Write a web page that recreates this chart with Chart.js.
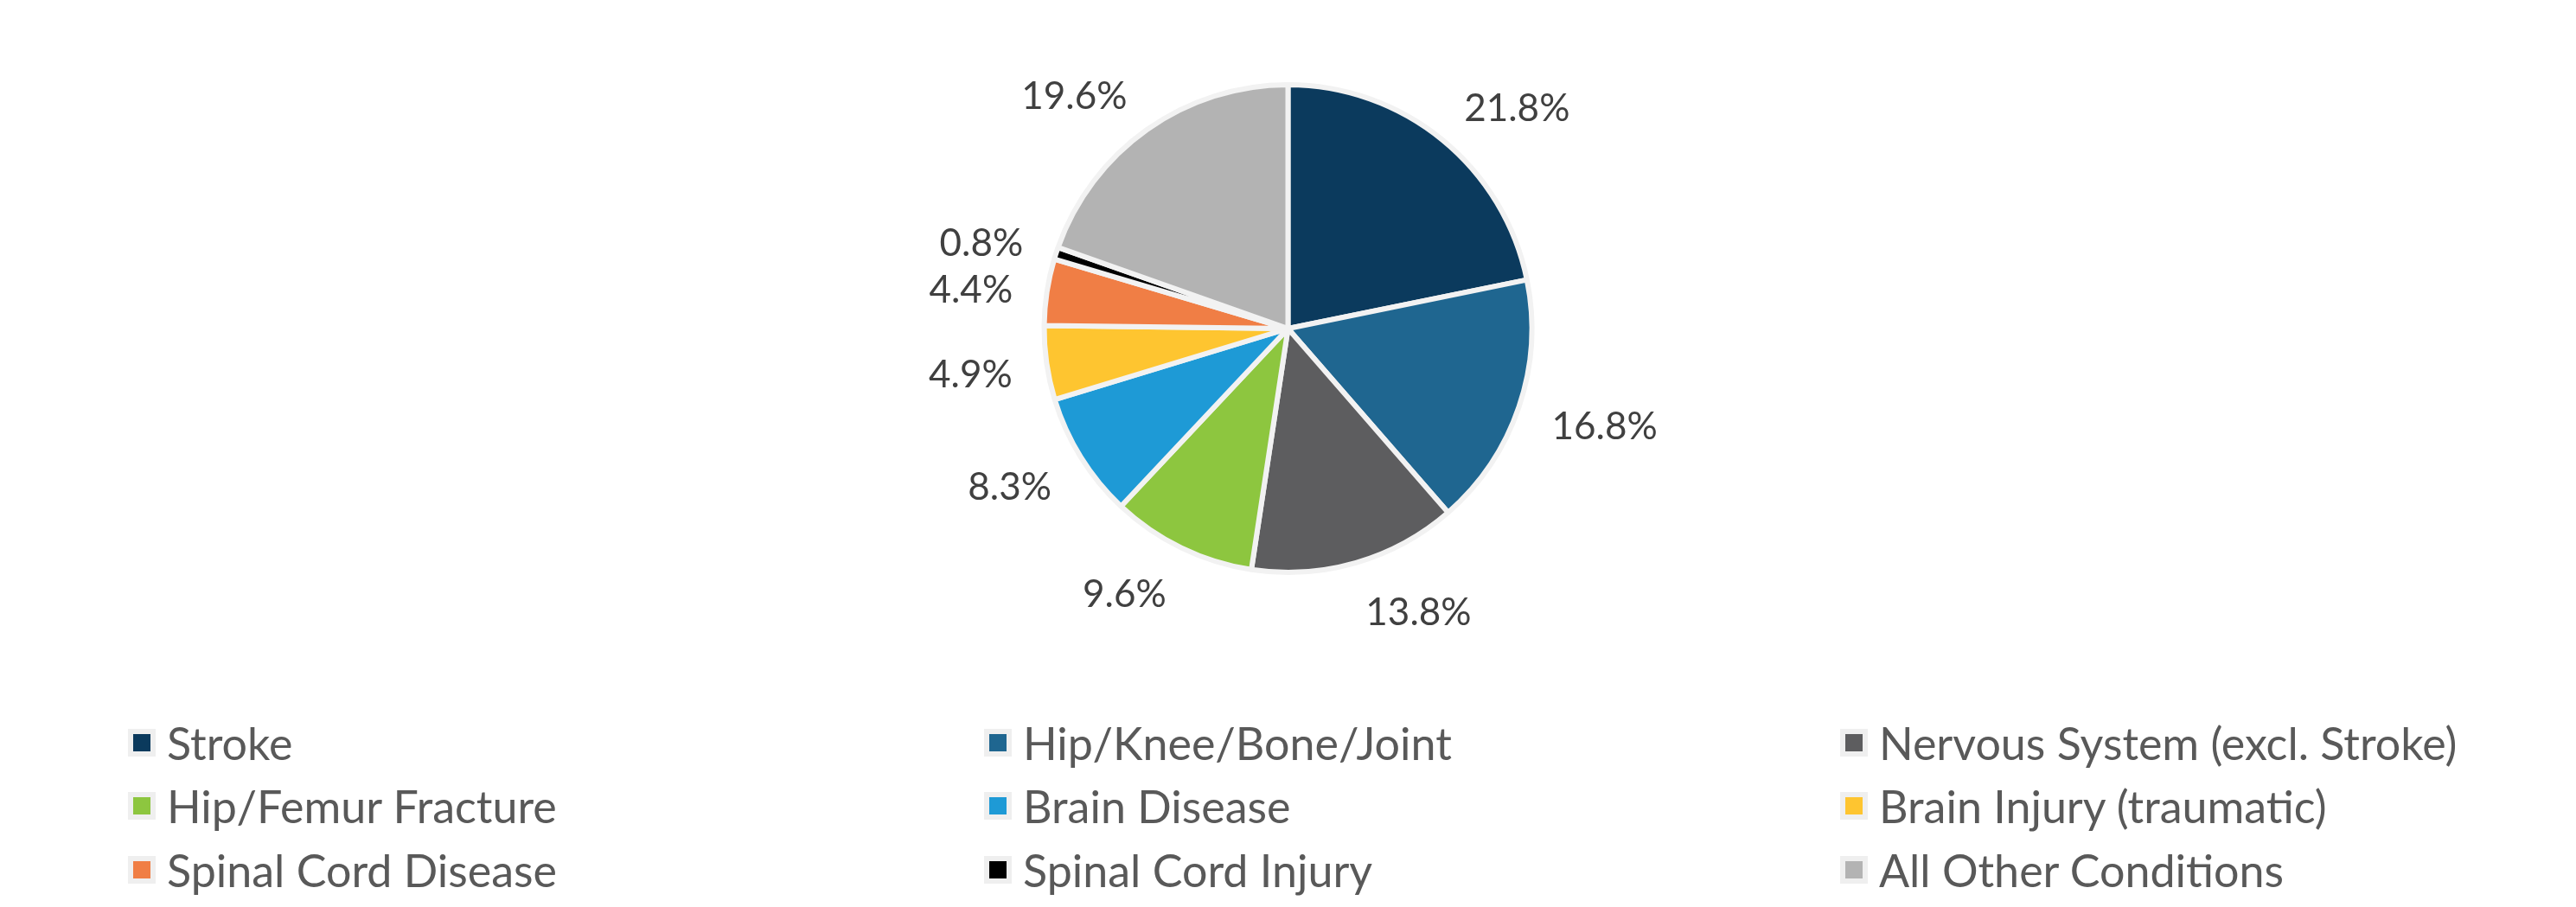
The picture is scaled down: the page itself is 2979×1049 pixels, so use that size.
<!DOCTYPE html>
<html>
<head>
<meta charset="utf-8">
<script src="https://cdn.jsdelivr.net/npm/chart.js@4.4.1/dist/chart.umd.min.js"></script>
<style>
  html, body { margin: 0; padding: 0; background: #ffffff; }
  body { width: 2979px; height: 1049px; position: relative; overflow: hidden; font-family: Lato, "Open Sans", sans-serif; }
  #wrap { position: absolute; left: 0; top: 0; width: 2979px; height: 760px; }
  #legend { position: absolute; left: 0; top: 0; width: 2979px; height: 1049px; }
  .item { position: absolute; display: flex; align-items: center; height: 70px; margin-top: -35px; color: #595959; font-size: 52px; white-space: nowrap; }
  .box { width: 20px; height: 20px; border: 6px solid #efefef; margin-right: 13px; box-sizing: content-box; flex: none; }
</style>
</head>
<body>
<div id="wrap"><canvas id="c"></canvas></div>
<div id="legend"></div>
<script>
const categories = [
  "Stroke",
  "Hip/Knee/Bone/Joint",
  "Nervous System (excl. Stroke)",
  "Hip/Femur Fracture",
  "Brain Disease",
  "Brain Injury (traumatic)",
  "Spinal Cord Disease",
  "Spinal Cord Injury",
  "All Other Conditions"
];
const shares = [21.8, 16.8, 13.8, 9.6, 8.3, 4.9, 4.4, 0.8, 19.6];
const sliceColors = ["#0b3a5d", "#1f6690", "#5d5d5f", "#8dc63f", "#1e9ad6", "#fec530", "#f07e45", "#000000", "#b3b3b3"];

// HTML legend in three columns
const legendEl = document.getElementById('legend');
const colX = [148, 1138, 2128];
const rowY = [859, 932, 1006];
categories.forEach((name, i) => {
  const d = document.createElement('div');
  d.className = 'item';
  d.style.left = colX[i % 3] + 'px';
  d.style.top = rowY[Math.floor(i / 3)] + 'px';
  const b = document.createElement('span');
  b.className = 'box';
  b.style.background = sliceColors[i];
  const t = document.createElement('span');
  t.textContent = name;
  d.appendChild(b); d.appendChild(t);
  legendEl.appendChild(d);
});

const outsideLabels = {
  id: 'outsideLabels',
  afterDatasetsDraw(chart) {
    const ctx = chart.ctx;
    const meta = chart.getDatasetMeta(0);
    ctx.save();
    ctx.font = '44px Lato, "Open Sans", sans-serif';
    ctx.fillStyle = '#404040';
    ctx.textAlign = 'center';
    ctx.textBaseline = 'middle';
    meta.data.forEach((arc, i) => {
      const p = arc.getProps(['x', 'y', 'startAngle', 'endAngle', 'outerRadius'], true);
      const mid = (p.startAngle + p.endAngle) / 2;
      const txt = shares[i].toFixed(1) + '%';
      const w = ctx.measureText(txt).width;
      const dx = Math.cos(mid), dy = Math.sin(mid);
      const x = p.x + dx * (p.outerRadius + 40) + Math.sign(dx) * w / 2;
      const y = p.y + dy * (p.outerRadius + 54) + 6;
      ctx.fillText(txt, x, y);
    });
    ctx.restore();
  }
};

new Chart(document.getElementById('c'), {
  type: 'pie',
  data: {
    labels: categories,
    datasets: [{
      data: shares,
      backgroundColor: sliceColors,
      borderColor: '#f2f2f2',
      borderWidth: 6
    }]
  },
  options: {
    responsive: true,
    maintainAspectRatio: false,
    animation: false,
    devicePixelRatio: 1,
    layout: { padding: { top: 95, bottom: 95 } },
    plugins: {
      legend: { display: false },
      tooltip: { enabled: false }
    }
  },
  plugins: [outsideLabels]
});
</script>
</body>
</html>
